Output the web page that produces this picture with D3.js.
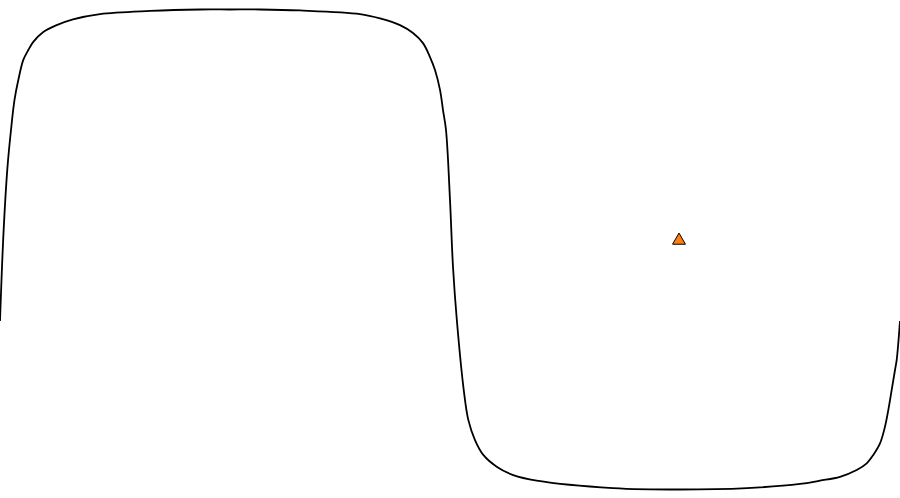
<!DOCTYPE html>
<html>
<head>
<meta charset="utf-8">
<script src="https://cdn.jsdelivr.net/npm/d3@7"></script>
<style>
  html, body { margin: 0; padding: 0; background: #fff; }
  #svg-container { width: 900px; height: 498px; }
</style>
</head>
<body>
<div id="svg-container"></div>
<script>
// curve samples (x position, amplitude -1..1)
const curveX = [0, 3.5, 7.5, 11, 14.5, 18.3, 23.3, 28.3, 33.3, 43.3, 56.7, 73, 100, 150, 200, 230, 260, 300, 360, 380,
  400, 413, 423, 430, 435, 440, 443, 446, 450, 453, 457, 464, 468.3, 475, 483.3, 496.7, 513.3, 536.7, 613,
  680, 747, 800, 820, 840, 856.7, 866.7, 873.3, 880, 885, 888.3, 891.7, 895, 896.7, 900]
const curveY = [-0.298, 0.069, 0.344, 0.498, 0.623, 0.706, 0.79, 0.831, 0.865, 0.906, 0.935, 0.959, 0.981, 0.994, 1.0, 1.0, 1.0, 0.996, 0.981, 0.963,
  0.935, 0.902, 0.86, 0.802, 0.748, 0.665, 0.581, 0.498, 0.206, -0.073, -0.302, -0.594, -0.71, -0.794, -0.856, -0.905, -0.94, -0.963, -0.994,
  -1.0, -0.994, -0.977, -0.963, -0.947, -0.919, -0.891, -0.856, -0.808, -0.738, -0.669, -0.585, -0.502, -0.46, -0.298]

// the single marker
const markerX = [679]
const markerY = [0.0375]

const width = 900
const height = 498

const svg = d3.select('#svg-container')
  .append('svg').attr('width', width).attr('height', height)

const xScale = d3.scaleLinear().domain([0, 900]).range([0, width])
const yScale = d3.scaleLinear().domain([-1, 1]).range([489.5, 9.5])

const data = curveX.map((x, i) => ({ x: x, y: curveY[i] }))

const line = d3.line()
  .x(d => xScale(d.x))
  .y(d => yScale(d.y))
  .curve(d3.curveCatmullRom.alpha(0.5))

svg.append('path')
  .datum(data)
  .attr('fill', 'none')
  .attr('stroke', '#000')
  .attr('stroke-width', 1.8)
  .attr('d', line)

//driehoek marker
svg.selectAll('.marker')
  .data(markerX.map((x, i) => ({ x: x, y: markerY[i] })))
  .enter().append('path')
  .attr('class', 'marker')
  .attr('transform', d => `translate(${xScale(d.x)}, ${yScale(d.y)})`)
  .attr('d', d3.symbol().type(d3.symbolTriangle).size(72))
  .attr('fill', '#ff7f0e')
  .attr('stroke', '#000')
  .attr('stroke-width', 1)
</script>
</body>
</html>
